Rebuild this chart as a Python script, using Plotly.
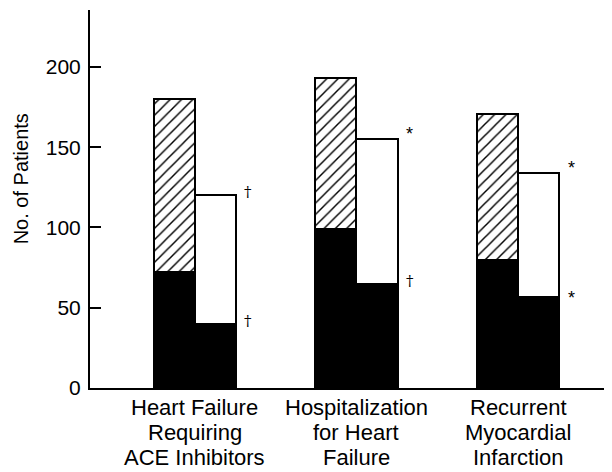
import plotly.graph_objects as go

categories = [["Heart Failure", "Requiring", "ACE Inhibitors"],
              ["Hospitalization", "for Heart", "Failure"],
              ["Recurrent", "Myocardial", "Infarction"]]
placebo_total = [180, 193, 171]
placebo_black = [72, 99, 80]
treat_total = [120, 155, 134]
treat_black = [40, 65, 57]
marks_top = ["†", "*", "*"]
marks_bottom = ["†", "†", "*"]
yticks = [0, 50, 100, 150, 200]

x = [0, 1, 2]
w = 0.254
FONT = "Liberation Sans, Arial, Helvetica, sans-serif"
MARKFONT = "DejaVu Serif, Liberation Serif, serif"

fig = go.Figure()
fig.add_trace(go.Bar(
    x=x, y=placebo_total, width=w, offset=-w,
    marker=dict(color="white",
                pattern=dict(shape="/", fgcolor="black", bgcolor="white",
                             size=8, solidity=0.18, fillmode="replace"),
                line=dict(color="black", width=2)),
    showlegend=False, hoverinfo="skip"))
fig.add_trace(go.Bar(
    x=x, y=placebo_black, width=w, offset=-w,
    marker=dict(color="black", line=dict(color="black", width=2)),
    showlegend=False, hoverinfo="skip"))
fig.add_trace(go.Bar(
    x=x, y=treat_total, width=w, offset=0,
    marker=dict(color="white", line=dict(color="black", width=2)),
    showlegend=False, hoverinfo="skip"))
fig.add_trace(go.Bar(
    x=x, y=treat_black, width=w, offset=0,
    marker=dict(color="black", line=dict(color="black", width=2)),
    showlegend=False, hoverinfo="skip"))

annotations = []
for xi, yt, yb, mt, mb in zip(x, treat_total, treat_black, marks_top, marks_bottom):
    for yy, m, is_top in ((yt, mt, True), (yb, mb, False)):
        if m == "†":
            shift = 3
            fam, size = MARKFONT, 15
        else:
            shift = 5 if is_top else -1
            fam, size = FONT, 18
        annotations.append(dict(
            x=xi + w + 0.075, y=yy, xref="x", yref="y", text=m,
            showarrow=False, xanchor="center", yanchor="middle",
            yshift=shift,
            font=dict(family=fam, size=size, color="#000000")))
# category labels, one annotation per line for tight line spacing
for xi, lines in zip(x, categories):
    for k, line in enumerate(lines):
        annotations.append(dict(
            x=xi, y=0, xref="x", yref="paper", text=line,
            showarrow=False, xanchor="center", yanchor="middle",
            yshift=-19 - 25 * k,
            font=dict(family=FONT, size=22, color="black")))
annotations.append(dict(
    x=0, y=130, xref="paper", yref="y", text="No. of Patients",
    textangle=-90, showarrow=False, xanchor="center", yanchor="middle",
    xshift=-69, font=dict(family=FONT, size=20, color="black")))

# page body has an 8px default margin; compensate so the plot lands in place
fig.update_layout(
    width=604, height=464,
    margin=dict(l=82, r=0, t=2, b=84),
    paper_bgcolor="white", plot_bgcolor="white",
    barmode="overlay", bargap=0,
    annotations=annotations,
    font=dict(family=FONT, color="black"),
)
fig.update_xaxes(
    range=[-0.65, 2.582], tickvals=x, ticktext=["", "", ""],
    showline=True, linecolor="black", linewidth=2, ticks="",
    showgrid=False, zeroline=False)
fig.update_yaxes(
    range=[0, 235.5], tickvals=yticks,
    showline=True, linecolor="black", linewidth=2,
    ticks="inside", ticklen=11, tickwidth=2, tickcolor="black",
    ticklabelstandoff=3,
    showgrid=False, zeroline=False,
    tickfont=dict(size=21, family=FONT, color="black"))

fig.write_html("out.html")
